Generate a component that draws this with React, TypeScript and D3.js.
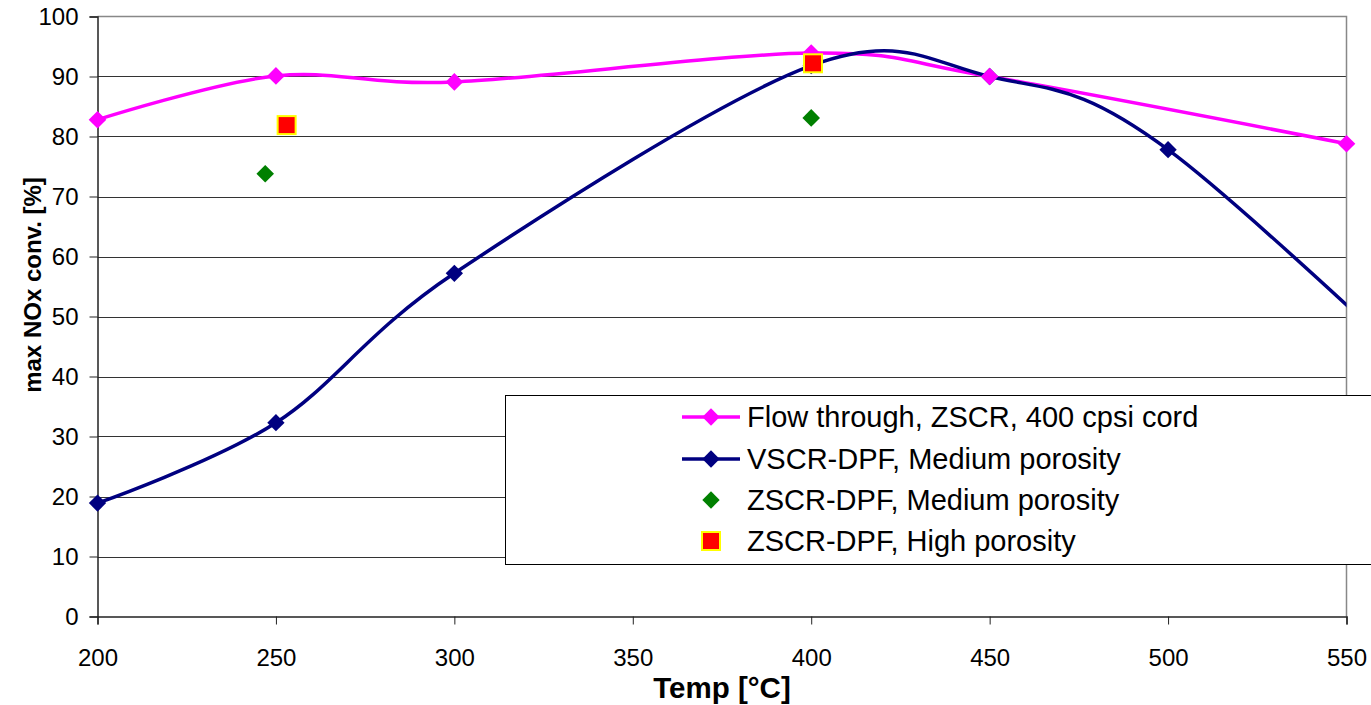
import React, { useRef, useEffect } from 'react';
import * as d3 from 'd3';

// Flow through, ZSCR, 400 cpsi cord
const flowTemps = [200, 250, 300, 400, 450, 550];
const flowConv = [82.8, 90.1, 89.1, 93.9, 90.0, 78.8];

// VSCR-DPF, Medium porosity (last point lies beyond the axis and is clipped)
const vscrTemps = [200, 250, 300, 400, 450, 500, 600];
const vscrConv = [18.9, 32.3, 57.2, 91.8, 90.0, 77.8, 24];
const vscrMarkerCount = 6;

// ZSCR-DPF, Medium porosity
const zMedTemps = [247, 400];
const zMedConv = [73.8, 83.1];

// ZSCR-DPF, High porosity
const zHighTemps = [253, 400.5];
const zHighConv = [81.9, 92.2];

const xTicks = [200, 250, 300, 350, 400, 450, 500, 550];
const yTicks = [0, 10, 20, 30, 40, 50, 60, 70, 80, 90, 100];

const legendLabels = [
  'Flow through, ZSCR, 400 cpsi cord',
  'VSCR-DPF, Medium porosity',
  'ZSCR-DPF, Medium porosity',
  'ZSCR-DPF, High porosity',
];

const FONT = '"Liberation Sans", Arial, sans-serif';

function App() {
  const svgRef = useRef<SVGSVGElement>(null);

  useEffect(() => {
    const svg = d3.select(svgRef.current);
    svg.selectAll('*').remove();

    const left = 97.5, right = 1346.5, top = 16.5, bottom = 616.5;

    const x = d3.scaleLinear().domain([200, 550]).range([left, right]);
    const y = d3.scaleLinear().domain([0, 100]).range([bottom, top]);

    svg.append('defs').append('clipPath').attr('id', 'plotclip')
      .append('rect')
      .attr('x', left).attr('y', top)
      .attr('width', right - left).attr('height', bottom - top);

    // gridlines
    svg.append('g')
      .selectAll('line')
      .data(yTicks.filter(d => d > 0 && d < 100))
      .join('line')
      .attr('x1', left).attr('x2', right)
      .attr('y1', d => Math.round(y(d)) + 0.5).attr('y2', d => Math.round(y(d)) + 0.5)
      .attr('stroke', '#333');

    // plot border (top and right)
    svg.append('path')
      .attr('d', `M${left},${top}H${right}V${bottom}`)
      .attr('fill', 'none')
      .attr('stroke', '#888')
      .attr('stroke-width', 1.5);

    // axes
    const yAxis = svg.append('g')
      .attr('transform', `translate(${left},0)`)
      .call(d3.axisLeft(y).tickValues(yTicks).tickSize(8).tickPadding(11));
    const xAxis = svg.append('g')
      .attr('transform', `translate(0,${bottom})`)
      .call(d3.axisBottom(x).tickValues(xTicks).tickSize(8).tickPadding(24));
    [yAxis, xAxis].forEach(a => {
      a.select('.domain').attr('stroke', '#222').attr('stroke-width', 1.5);
      a.selectAll('.tick line').attr('stroke', '#222');
      a.selectAll('text')
        .attr('font-family', FONT)
        .attr('font-size', 24)
        .attr('fill', '#000');
    });

    // axis titles
    svg.append('text')
      .attr('x', (left + right) / 2)
      .attr('y', 698)
      .attr('text-anchor', 'middle')
      .attr('font-family', FONT)
      .attr('font-weight', 'bold')
      .attr('font-size', 29.5)
      .text('Temp [°C]');

    svg.append('text')
      .attr('transform', `translate(41,285) rotate(-90)`)
      .attr('text-anchor', 'middle')
      .attr('font-family', FONT)
      .attr('font-weight', 'bold')
      .attr('font-size', 24)
      .text('max NOx conv. [%]');

    const diamond = d3.symbol().type(d3.symbolSquare);
    const plot = svg.append('g').attr('clip-path', 'url(#plotclip)');
    const smooth = d3.line().curve(d3.curveCardinal.tension(0));

    // Flow through line
    const flowPts = flowTemps.map((t, i) => [x(t), y(flowConv[i])] as [number, number]);
    plot.append('path')
      .attr('d', smooth(flowPts))
      .attr('fill', 'none')
      .attr('stroke', '#ff00ff')
      .attr('stroke-width', 3.5);

    // VSCR line
    const vscrPts = vscrTemps.map((t, i) => [x(t), y(vscrConv[i])] as [number, number]);
    plot.append('path')
      .attr('d', smooth(vscrPts))
      .attr('fill', 'none')
      .attr('stroke', '#000080')
      .attr('stroke-width', 3.5);

    const drawDiamonds = (g: any, pts: [number, number][], fill: string, size: number) => {
      g.selectAll(null)
        .data(pts)
        .join('path')
        .attr('d', diamond.size(size)())
        .attr('transform', (d: [number, number]) => `translate(${d[0]},${d[1]}) rotate(45)`)
        .attr('fill', fill);
    };

    const drawSquares = (g: any, pts: [number, number][]) => {
      g.selectAll(null)
        .data(pts)
        .join('rect')
        .attr('x', (d: [number, number]) => d[0] - 9).attr('y', (d: [number, number]) => d[1] - 9)
        .attr('width', 18).attr('height', 18)
        .attr('fill', '#ff0000')
        .attr('stroke', '#ffff00')
        .attr('stroke-width', 2);
    };

    const marks = svg.append('g');
    drawDiamonds(marks, vscrPts.slice(0, vscrMarkerCount), '#000080', 150);
    drawDiamonds(marks, flowPts, '#ff00ff', 155);
    drawDiamonds(marks, zMedTemps.map((t, i) => [x(t), y(zMedConv[i])] as [number, number]), '#008000', 155);
    drawSquares(marks, zHighTemps.map((t, i) => [x(t), y(zHighConv[i])] as [number, number]));

    // legend
    const legend = svg.append('g');
    legend.append('rect')
      .attr('x', 505.5).attr('y', 395.5)
      .attr('width', 900).attr('height', 169)
      .attr('fill', '#fff')
      .attr('stroke', '#000')
      .attr('stroke-width', 1);

    const rowY = [417, 459, 500, 541];
    const lx = 711;
    legendLabels.forEach((label, i) => {
      const ry = rowY[i];
      if (i === 0 || i === 1) {
        const c = i === 0 ? '#ff00ff' : '#000080';
        legend.append('line')
          .attr('x1', 682).attr('x2', 740).attr('y1', ry).attr('y2', ry)
          .attr('stroke', c).attr('stroke-width', 3.5);
        drawDiamonds(legend, [[lx, ry]], c, 150);
      } else if (i === 2) {
        drawDiamonds(legend, [[lx, ry]], '#008000', 150);
      } else {
        drawSquares(legend, [[lx, ry]]);
      }
      legend.append('text')
        .attr('x', 747)
        .attr('y', ry)
        .attr('dy', '0.36em')
        .attr('font-family', FONT)
        .attr('font-size', 29)
        .text(label);
    });
  }, []);

  return (
    <svg
      ref={svgRef}
      width={1371}
      height={705}
      style={{ position: 'absolute', left: 0, top: 0, background: '#fff' }}
    />
  );
}

export default App;
